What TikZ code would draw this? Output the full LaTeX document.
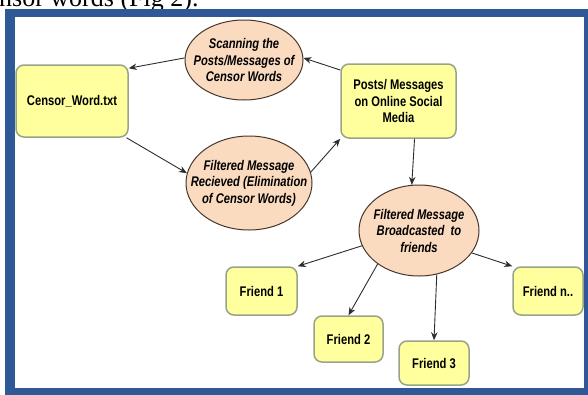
\documentclass[tikz,border=0pt]{standalone}
\usepackage{fontspec}
\usetikzlibrary{shapes.geometric,arrows.meta}
\newfontfamily\diagfont{Liberation Sans}[FakeStretch=0.8]
\newfontfamily\serifpaper{Liberation Serif}
\definecolor{frameblue}{RGB}{46,89,150}
\definecolor{boxfill}{RGB}{255,255,158}
\definecolor{boxline}{RGB}{150,165,135}
\definecolor{ellfill}{RGB}{251,219,192}
\definecolor{ellline}{RGB}{70,55,45}
\definecolor{arrowcol}{RGB}{45,45,45}
\tikzset{
  yellowbox/.style={rectangle, rounded corners=8pt, fill=boxfill, draw=boxline, line width=1.5pt,
    inner sep=2pt, align=center, font=\diagfont\bfseries\fontsize{14}{16.5}\selectfont},
  peachell/.style={ellipse, fill=ellfill, draw=ellline, line width=1pt, inner sep=0pt},
  elltext/.style={align=center, font=\diagfont\bfseries\itshape\fontsize{14}{16.5}\selectfont},
  conn/.style={draw=arrowcol, line width=0.9pt, -{Stealth[length=8pt,width=6.5pt]}}
}
\begin{document}
\begin{tikzpicture}[x=1pt,y=-1pt]
\useasboundingbox (0,0) rectangle (588,394);
% cropped line of the surrounding text
\node[anchor=base west, inner sep=0pt, font=\serifpaper\fontsize{26}{30}\selectfont] (papertext) at (-1,6.5) {nsor words (Fig 2).};
% frame
\fill[frameblue] (5,9) rectangle (595,400);
\fill[white] (15,16.5) rectangle (584,388);
% nodes
\node[peachell, minimum width=118pt, minimum height=80pt,
  label={[elltext]center:Scanning the\\Posts/Messages of\\Censor Words}] (scan) at (244,60) {};
\node[peachell, minimum width=126pt, minimum height=94pt,
  label={[elltext]center:Filtered Message\\Recieved (Elimination\\of Censor Words)}] (filt) at (249,183) {};
\node[peachell, minimum width=120pt, minimum height=91pt,
  label={[elltext]center:Filtered Message\\Broadcasted~ to\\friends}] (bcast) at (419,230.5) {};
\node[yellowbox, minimum width=112pt, minimum height=72pt] (censor) at (72,101) {Censor\_Word.txt};
\node[yellowbox, minimum width=115pt, minimum height=74pt] (posts) at (398.5,101) {Posts/ Messages\\on Online Social\\Media};
\node[yellowbox, minimum width=71pt, minimum height=48pt] (f1) at (261.5,291) {Friend 1};
\node[yellowbox, minimum width=69pt, minimum height=46pt] (f2) at (348.5,339) {Friend 2};
\node[yellowbox, minimum width=70pt, minimum height=44pt] (f3) at (434,363) {Friend 3};
\node[yellowbox, minimum width=70pt, minimum height=48pt] (fn) at (548,291) {Friend n..};
% connectors
\draw[conn] (posts.152) -- (scan.2);
\draw[conn] (scan.178) -- (censor.30);
\draw[conn] (censor.-34) -- (filt.171);
\draw[conn] (filt.10) -- (posts.south west);
\draw[conn] (posts.-67) -- (bcast.99);
\draw[conn] (bcast.195) -- (f1.north east);
\draw[conn] (bcast.219) -- (f2.north);
\draw[conn] (bcast.-68) -- (f3.north);
\draw[conn] (bcast.-23) -- (fn.north west);
\end{tikzpicture}
\end{document}
